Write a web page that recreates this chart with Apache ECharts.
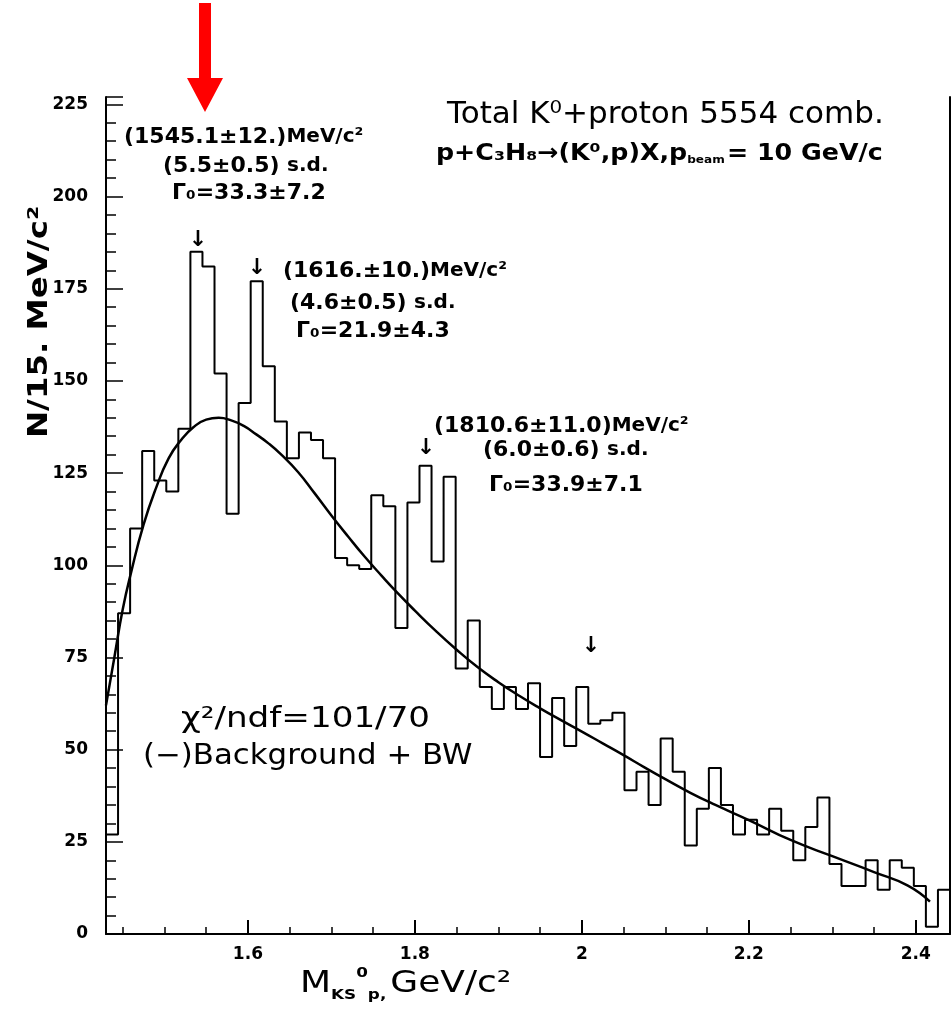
<!DOCTYPE html>
<html>
<head>
<meta charset="utf-8">
<script src="https://cdn.jsdelivr.net/npm/echarts@6/dist/echarts.min.js"></script>
<style>
html, body { margin: 0; padding: 0; background: #fff; }
#container { width: 951px; height: 1011px; }
</style>
</head>
<body>
<div id="container"></div>
<script>
// K0 + proton invariant mass histogram, 70 bins
var binStart = 1.43;
var binWidth = 0.014443;
var counts = [27, 87, 110, 131, 123, 120, 137, 185, 181, 152,
  114, 144, 177, 154, 139, 129, 136, 134, 129, 102,
  100, 99, 119, 116, 83, 117, 127, 101, 124, 72,
  85, 67, 61, 67, 61, 68, 48, 64, 51, 67,
  57, 58, 60, 39, 44, 35, 53, 44, 24, 34,
  45, 35, 27, 31, 27, 34, 28, 20, 29, 37,
  19, 13, 13, 20, 12, 20, 18, 13, 2, 12];

// background + BW fit curve
var fitX = [1.430, 1.440, 1.450, 1.460, 1.475, 1.490, 1.505, 1.520, 1.535, 1.550,
  1.565, 1.580, 1.595, 1.610, 1.625, 1.640, 1.660, 1.680, 1.700, 1.720,
  1.740, 1.760, 1.780, 1.800, 1.825, 1.850, 1.875, 1.900, 1.925, 1.950,
  1.975, 2.000, 2.025, 2.050, 2.075, 2.100, 2.130, 2.160, 2.200, 2.250,
  2.300, 2.350, 2.390, 2.417];
var fitY = [62, 75, 88, 98, 111, 121, 129, 134, 137.5, 139.5,
  140, 139.3, 137.8, 135.5, 133, 130, 125.3, 119.5, 113.5, 107.8,
  102.3, 97.2, 92.3, 87.7, 82.2, 77.1, 72.4, 68.3, 64.6, 61.2,
  58, 54.9, 51.7, 48.5, 45.2, 42, 38.3, 35, 30.9, 25.5,
  21.1, 16.8, 13.2, 8.8];

var xMajor = [1.6, 1.8, 2, 2.2, 2.4];
var xMinor = [1.45, 1.5, 1.55, 1.65, 1.7, 1.75, 1.85, 1.9, 1.95, 2.05, 2.1, 2.15, 2.25, 2.3, 2.35];

var xMin = binStart;
var xMax = binStart + counts.length * binWidth;

var histData = [[binStart, 0]];
counts.forEach(function (c, i) {
  histData.push([binStart + i * binWidth, c]);
});
histData.push([xMax, counts[counts.length - 1]]);
histData.push([xMax, 0]);

var fitData = fitX.map(function (x, i) { return [x, fitY[i]]; });

var FF = '"DejaVu Sans", "Liberation Sans", sans-serif';

var annRich = {
  a: { fontSize: 22, fontFamily: FF, fontWeight: 'bold' },
  b: { fontSize: 20, fontFamily: FF, fontWeight: 'bold' }
};

function txt(x, y, parts, align, sx) {
  return {
    type: 'text', x: x, y: y, z: 10, scaleX: sx || 1,
    style: {
      text: parts, rich: annRich, align: align || 'left', verticalAlign: 'middle',
      fontFamily: FF, fill: '#000'
    }
  };
}

function plain(x, y, s, size, sx, weight) {
  return {
    type: 'text', x: x, y: y, z: 10, scaleX: sx || 1,
    style: {
      text: s, fontSize: size, fontWeight: weight || 'normal', fontFamily: FF,
      fill: '#000', align: 'left', verticalAlign: 'middle'
    }
  };
}

var chart = echarts.init(document.getElementById('container'));

var option = {
  backgroundColor: '#fff',
  animation: false,
  grid: { left: 106, right: 1, top: 97, bottom: 77, containLabel: false },
  xAxis: [{
    type: 'value', min: xMin, max: xMax, position: 'bottom',
    axisLine: { show: true, onZero: false, lineStyle: { color: '#000', width: 2 } },
    axisTick: { show: true, inside: true, length: 14, customValues: xMajor, lineStyle: { color: '#000', width: 2 } },
    axisLabel: { show: true, customValues: xMajor, margin: 12, color: '#000', fontSize: 17, fontWeight: 'bold', fontFamily: FF },
    splitLine: { show: false }
  }, {
    type: 'value', min: xMin, max: xMax, position: 'bottom',
    axisLine: { show: false },
    axisTick: { show: true, inside: true, length: 7, customValues: xMinor, lineStyle: { color: '#000', width: 1.5 } },
    axisLabel: { show: false },
    splitLine: { show: false }
  }],
  yAxis: [{
    type: 'value', min: 0, max: 227, interval: 25, position: 'left',
    axisLine: { show: true, lineStyle: { color: '#000', width: 2 } },
    axisTick: { show: true, inside: true, length: 17, lineStyle: { color: '#000', width: 1.5 } },
    minorTick: { show: true, splitNumber: 5, length: 10, lineStyle: { color: '#000', width: 1.5 } },
    axisLabel: { show: true, margin: 18, color: '#000', fontSize: 17, fontWeight: 'bold', fontFamily: FF, showMaxLabel: false },
    splitLine: { show: false }
  }, {
    type: 'value', min: 0, max: 227, position: 'right',
    axisLine: { show: true, lineStyle: { color: '#000', width: 2 } },
    axisTick: { show: false }, axisLabel: { show: false }, splitLine: { show: false }
  }],
  series: [{
    type: 'line', name: 'data', xAxisIndex: 0, yAxisIndex: 0,
    data: histData, step: 'end', symbol: 'none',
    lineStyle: { color: '#000', width: 2 }
  }, {
    type: 'line', name: 'fit', xAxisIndex: 0, yAxisIndex: 0,
    data: fitData, smooth: 0.5, symbol: 'none',
    lineStyle: { color: '#000', width: 2.5 }
  }],
  graphic: [
    // red marker arrow
    {
      type: 'polygon', z: 20,
      shape: { points: [[199, 3], [211, 3], [211, 78], [223, 78], [205, 112], [187, 78], [199, 78]] },
      style: { fill: '#ff0000' }
    },
    // header
    plain(447, 115, 'Total K⁰+proton 5554 comb.', 31, 1.0),
    {
      type: 'text', x: 436, y: 154, z: 10, scaleX: 1.1,
      style: {
        text: '{a|p+C₃H₈→(K⁰,p)X,p}{s|beam}{a|= 10 GeV/c}',
        rich: {
          a: { fontSize: 23, fontFamily: FF, fontWeight: 'bold' },
          s: { fontSize: 11, fontFamily: FF, fontWeight: 'bold', verticalAlign: 'bottom', padding: [10, 2, 0, 0] }
        },
        fill: '#000', align: 'left', verticalAlign: 'middle'
      }
    },
    // peak 1
    txt(124, 137, '{a|(1545.1±12.)}{b|MeV/c²}'),
    txt(163, 166, '{a|(5.5±0.5)}  {b|s.d.}'),
    txt(172, 193, '{a|Γ₀=33.3±7.2}'),
    txt(198, 240, '{a|↓}', 'center'),
    // peak 2
    txt(257, 268, '{a|↓}', 'center'),
    txt(283, 271, '{a|(1616.±10.)}{b|MeV/c²}'),
    txt(290, 303, '{a|(4.6±0.5)}  {b|s.d.}'),
    txt(296, 331, '{a|Γ₀=21.9±4.3}'),
    // peak 3
    txt(426, 448, '{a|↓}', 'center'),
    txt(434, 426, '{a|(1810.6±11.0)}{b|MeV/c²}'),
    txt(483, 450, '{a|(6.0±0.6)}  {b|s.d.}'),
    txt(489, 485, '{a|Γ₀=33.9±7.1}'),
    // small mark near 2.0
    txt(591, 646, '{a|↓}', 'center'),
    // fit info
    plain(181, 720, 'χ²/ndf=101/70', 28, 1.22),
    plain(143, 757, '(−)Background + BW', 28, 1.1),
    // axis titles
    {
      type: 'text', x: 40, y: 322, rotation: Math.PI / 2, z: 10, scaleX: 1.2,
      style: { text: 'N/15. MeV/c²', fontSize: 27, fontWeight: 'bold', fontFamily: FF, fill: '#000', align: 'center', verticalAlign: 'middle' }
    },
    {
      type: 'text', x: 300, y: 984, z: 10, scaleX: 1.2,
      style: {
        text: '{m|M}{s|KS}{u|0}{s|p,} {m|GeV/c²}',
        rich: {
          m: { fontSize: 30, fontFamily: FF, lineHeight: 36 },
          s: { fontSize: 14, fontFamily: FF, fontWeight: 'bold', lineHeight: 36, verticalAlign: 'bottom' },
          u: { fontSize: 14, fontFamily: FF, fontWeight: 'bold', lineHeight: 36, verticalAlign: 'top' }
        },
        fill: '#000', align: 'left', verticalAlign: 'middle'
      }
    }
  ]
};

chart.setOption(option);
</script>
</body>
</html>
